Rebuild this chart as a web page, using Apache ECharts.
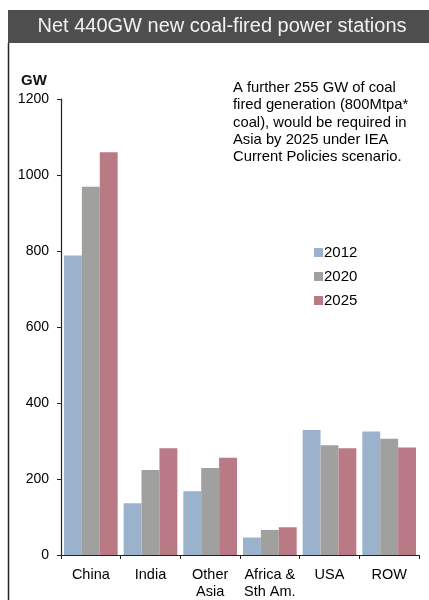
<!DOCTYPE html>
<html>
<head>
<meta charset="utf-8">
<script src="https://cdn.jsdelivr.net/npm/echarts@6/dist/echarts.min.js"></script>
<style>
html,body{margin:0;padding:0;background:#fff;}
#chart{width:429px;height:600px;}
</style>
</head>
<body>
<div id="chart"></div>
<script>
const categories = ['China', 'India', 'Other\nAsia', 'Africa &\nSth Am.', 'USA', 'ROW'];
const series2012 = [788, 136, 168, 46, 329, 325];
const series2020 = [969, 224, 229, 66, 289, 306];
const series2025 = [1060, 281, 256, 73, 281, 283];
const yTicks = [0, 200, 400, 600, 800, 1000, 1200];
const titleText = 'Net 440GW new coal-fired power stations';
const noteLines = ['A further 255 GW of coal', 'fired generation (800Mtpa*', 'coal), would be required in', 'Asia by 2025 under IEA', 'Current Policies scenario.'];

const FONT = '"Liberation Sans", Arial, sans-serif';
const chart = echarts.init(document.getElementById('chart'), null, {renderer: 'canvas'});

const noteGraphics = noteLines.map((t, i) => ({
  type: 'text', x: 233, y: 88 + i * 17.3,
  style: {text: t, font: '14.8px ' + FONT, fill: '#000', verticalAlign: 'middle'}
}));

chart.setOption({
  animation: false,
  backgroundColor: '#fff',
  graphic: [
    {type: 'rect', shape: {x: 8, y: 10, width: 421, height: 33}, style: {fill: '#4e4e4e'}},
    {type: 'text', x: 222, y: 26.5, style: {text: titleText, font: '20px ' + FONT, fill: '#f2f2f2', align: 'center', verticalAlign: 'middle'}},
    {type: 'line', shape: {x1: 8.5, y1: 43, x2: 8.5, y2: 600}, style: {stroke: '#222', lineWidth: 1.5}},
    {type: 'text', x: 34, y: 80.5, style: {text: 'GW', font: 'bold 15px ' + FONT, fill: '#111', align: 'center', verticalAlign: 'middle'}},
    ...noteGraphics
  ],
  legend: {
    orient: 'vertical', left: 309, top: 240,
    itemWidth: 9, itemHeight: 9, itemGap: 9,
    textStyle: {fontSize: 15, fontFamily: FONT, color: '#000', padding: [0, 0, 0, -4]},
    icon: 'rect',
    data: ['2012', '2020', '2025']
  },
  grid: {left: 61, right: 10, top: 99, bottom: 45},
  xAxis: {
    type: 'category', data: categories,
    axisLine: {lineStyle: {color: '#222', width: 1.2}},
    axisTick: {show: true, length: 4, lineStyle: {color: '#222'}},
    axisLabel: {fontSize: 14.5, fontFamily: FONT, color: '#000', margin: 11, lineHeight: 17, interval: 0}
  },
  yAxis: {
    type: 'value', min: 0, max: 1200, interval: 200,
    axisLine: {show: true, lineStyle: {color: '#222', width: 1.2}},
    axisTick: {show: true, length: 4, lineStyle: {color: '#222'}},
    splitLine: {show: false},
    axisLabel: {fontSize: 14, fontFamily: FONT, color: '#000', margin: 12,
      formatter: v => yTicks.includes(v) ? String(v) : ''}
  },
  series: [
    {name: '2012', type: 'bar', data: series2012, barGap: '0%', barCategoryGap: '10%', itemStyle: {color: '#9ab2cc'}},
    {name: '2020', type: 'bar', data: series2020, barGap: '0%', barCategoryGap: '10%', itemStyle: {color: '#a0a09e'}},
    {name: '2025', type: 'bar', data: series2025, barGap: '0%', barCategoryGap: '10%', itemStyle: {color: '#b97a85'}}
  ]
});
</script>
</body>
</html>
